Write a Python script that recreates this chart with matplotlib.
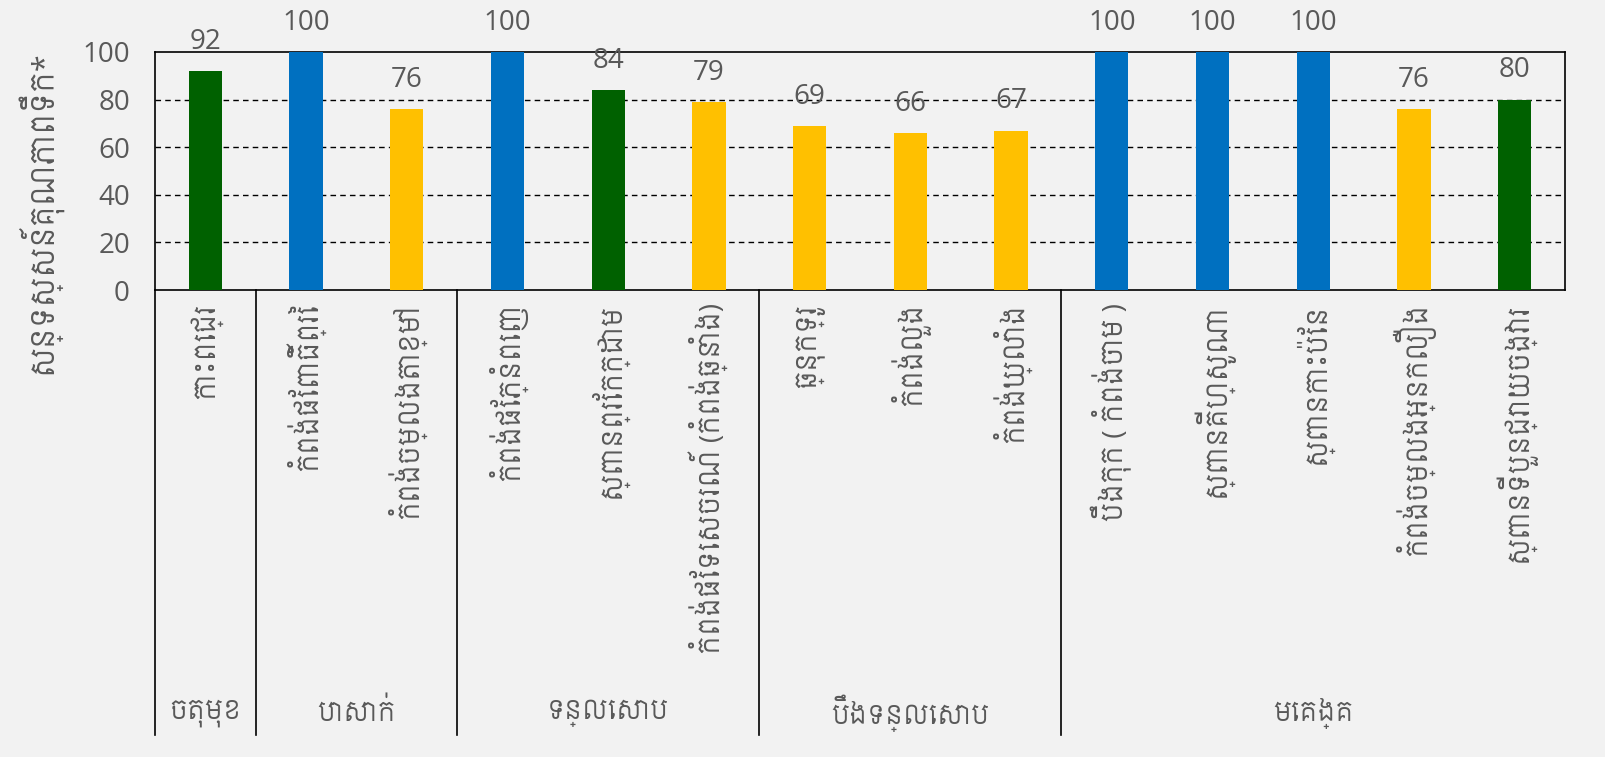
import matplotlib
matplotlib.use("Agg")
import matplotlib.pyplot as plt
import matplotlib.transforms as mtransforms

# Datos
sites = ["កោះពេជ្រ", "កំពង់ផែពោធិ៍ព្រៃ", "កំពង់ចម្លងតាខ្មៅ",
         "កំពង់ផែភ្នំពេញ", "ស្ពានព្រែកក្ដាម", "កំពង់ផែទេសចរណ៍ (កំពង់ឆ្នាំង)",
         "ឆ្នុកទ្រូ", "កំពង់លួង", "កំពង់ឃ្លាំង",
         "បឹងកុក ( កំពង់ចាម )", "ស្ពានគីហ្សូណា", "ស្ពានកោះប៉ែន",
         "កំពង់ចម្លងអ្នកលឿង", "ស្ពានទីបួនជ្រោយចង្វារ"]
values = [92, 100, 76, 100, 84, 79, 69, 66, 67, 100, 100, 100, 76, 80]
quality = ["good", "excellent", "fair", "excellent", "good", "fair",
           "fair", "fair", "fair", "excellent", "excellent", "excellent",
           "fair", "good"]
groups = ["ចតុមុខ", "បាសាក់", "ទន្លេសាប", "បឹងទន្លេសាប", "មេគង្គ"]
group_sizes = [1, 2, 3, 3, 5]
y_label = "សន្ទស្សន៍គុណភាពទឹក*"
y_ticks = [0, 20, 40, 60, 80, 100]

quality_colors = {"excellent": "#0070C0", "good": "#006100", "fair": "#FFC000"}

# Open Sans para cifras, fuente jemer para el resto
plt.rcParams['font.family'] = ['Open Sans', 'Siemreap', 'Noto Sans Khmer', 'DejaVu Sans']

text_color = "#595959"
bg = "#F2F2F2"

fig = plt.figure(figsize=(16.06, 7.57), dpi=100, facecolor=bg)
ax = fig.add_axes([155 / 1606, 1 - 290 / 757, 1410 / 1606, 238 / 757])
ax.set_facecolor(bg)

x = list(range(len(values)))
ax.bar(x, values, width=0.33, color=[quality_colors[q] for q in quality], zorder=3)

for xi, v in zip(x, values):
    ax.annotate(str(v), (xi, v), xytext=(0, 11), textcoords="offset points",
                ha="center", va="bottom", fontsize=20, color=text_color,
                annotation_clip=False)

ax.set_xlim(-0.5, len(values) - 0.5)
ax.set_ylim(0, 100)
ax.set_yticks(y_ticks)
ax.tick_params(axis="y", length=0, labelsize=20, labelcolor=text_color, pad=18)
ax.set_xticks([])
for yv in y_ticks[1:-1]:
    ax.axhline(yv, color="black", linestyle=(0, (4, 3)), linewidth=1, zorder=1)
for s in ax.spines.values():
    s.set_color("black")
    s.set_linewidth(1.2)

# Título del eje Y
fig.text(38 / 1606, 1 - 212 / 757, y_label, rotation=90, ha="center", va="center",
         fontsize=22, color=text_color)

# Etiquetas de categoría y grupos
trans = mtransforms.blended_transform_factory(ax.transData, ax.transAxes)
for xi, name in zip(x, sites):
    ax.text(xi, -13 / 238, name, rotation=90, ha="center", va="top",
            fontsize=20, color=text_color, transform=trans)

bottom = -445 / 238
start = 0
for g, n in zip(groups, group_sizes):
    ax.plot([start - 0.5, start - 0.5], [0, bottom], color="black",
            linewidth=1.2, transform=trans, clip_on=False)
    ax.text(start - 0.5 + n / 2, -423 / 238, g, ha="center", va="center",
            fontsize=19, color=text_color, transform=trans)
    start += n

plt.savefig("out.png", dpi=100, facecolor=bg)
